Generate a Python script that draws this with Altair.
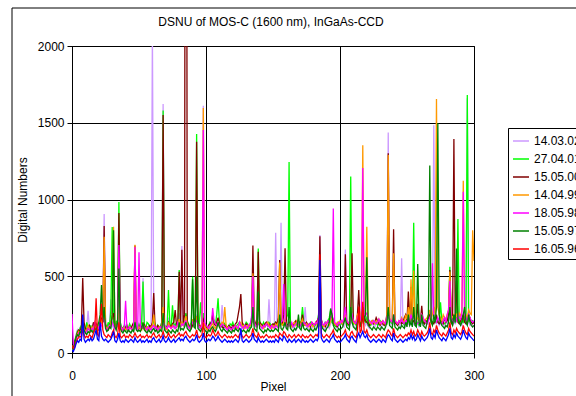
import altair as alt
import pandas as pd

FONT = "Liberation Sans"

series_names = ["14.03.02", "27.04.01", "15.05.00", "14.04.99", "18.05.98", "15.05.97", "16.05.96"]
series_colors = ["#CC99FF", "#00FF00", "#800000", "#FF9900", "#FF00FF", "#008000", "#FF0000"]
extra_color = "#0000FF"

s_140302 = [
    40, 30, 60, 120, 150, 130, 170, 140, 160, 190, 150, 170, 275, 160, 140, 180, 150, 200, 170, 150, 190, 160, 210, 250, 905,
    200, 150, 170, 190, 350, 180, 160, 150, 200, 170, 260, 170, 150, 140, 160, 180, 150, 140, 160, 170, 150, 140, 300, 160, 150,
    170, 160, 180, 488, 170, 150, 160, 140, 150, 170, 2100, 200, 150, 170, 160, 140, 180, 200, 1622, 190, 150, 160, 230, 180, 170,
    190, 160, 180, 170, 200, 260, 180, 697, 200, 170, 250, 180, 160, 150, 170, 180, 190, 220, 250, 170, 160, 180, 190, 1610, 200,
    150, 140, 160, 150, 180, 200, 170, 160, 190, 220, 180, 170, 312, 200, 180, 160, 150, 170, 160, 150, 170, 180, 160, 150, 170,
    200, 170, 160, 180, 170, 160, 190, 180, 170, 240, 200, 180, 170, 190, 260, 180, 170, 160, 180, 190, 200, 170, 350, 180, 160,
    170, 180, 784, 190, 170, 230, 849, 180, 200, 170, 160, 190, 210, 170, 160, 180, 170, 150, 160, 180, 170, 190, 200, 180, 300,
    170, 160, 150, 170, 160, 180, 170, 160, 180, 200, 769, 200, 170, 160, 150, 170, 180, 160, 190, 200, 230, 180, 170, 160, 180,
    190, 200, 180, 170, 675, 200, 180, 170, 190, 210, 180, 170, 160, 180, 200, 170, 190, 240, 200, 180, 200, 170, 160, 190, 200,
    180, 170, 200, 190, 180, 170, 160, 200, 190, 180, 200, 1437, 220, 190, 180, 200, 210, 190, 180, 200, 170, 617, 190, 180, 170,
    200, 190, 180, 200, 210, 190, 180, 200, 190, 170, 180, 200, 190, 180, 200, 210, 190, 200, 220, 250, 1483, 200, 190, 210, 180,
    200, 190, 180, 170, 200, 190, 210, 250, 190, 180, 200, 190, 210, 230, 200, 190, 180, 250, 200, 190, 1660, 200, 180, 190, 170,
    180,
]
s_270401 = [
    30, 50, 80, 110, 140, 120, 160, 180, 150, 170, 140, 200, 160, 150, 180, 140, 170, 190, 160, 150, 180, 220, 200, 260, 300,
    180, 160, 200, 170, 280, 820, 190, 170, 210, 180, 984, 200, 170, 160, 180, 170, 150, 160, 190, 170, 160, 150, 200, 180, 160,
    190, 170, 200, 465, 180, 160, 200, 190, 160, 170, 180, 210, 190, 160, 180, 150, 170, 200, 1580, 170, 160, 180, 410, 190, 170,
    310, 180, 190, 170, 200, 540, 190, 200, 180, 200, 260, 210, 190, 170, 200, 497, 220, 200, 1427, 210, 190, 330, 200, 260, 180,
    170, 160, 180, 200, 190, 230, 210, 180, 250, 357, 200, 180, 170, 200, 190, 180, 170, 160, 190, 180, 200, 170, 160, 180, 190,
    200, 180, 190, 170, 180, 200, 190, 160, 180, 200, 260, 190, 180, 200, 680, 210, 190, 180, 200, 170, 190, 180, 200, 190, 180,
    170, 190, 200, 180, 170, 200, 220, 190, 180, 200, 230, 250, 1244, 200, 180, 170, 190, 200, 180, 170, 190, 210, 300, 200, 180,
    190, 170, 180, 200, 190, 180, 170, 190, 200, 250, 180, 190, 170, 180, 200, 190, 210, 230, 280, 200, 190, 180, 170, 190, 200,
    180, 190, 200, 210, 250, 190, 180, 200, 1149, 230, 190, 200, 180, 190, 210, 200, 190, 250, 210, 200, 230, 200, 190, 180, 200,
    210, 190, 200, 180, 190, 210, 200, 190, 180, 200, 190, 260, 210, 200, 190, 250, 200, 190, 180, 200, 210, 190, 200, 180, 190,
    200, 210, 190, 230, 200, 849, 210, 190, 200, 180, 190, 210, 200, 190, 200, 210, 230, 250, 200, 190, 210, 200, 230, 210, 200,
    330, 210, 200, 190, 200, 210, 250, 562, 200, 190, 210, 200, 230, 873, 200, 190, 210, 200, 250, 230, 1680, 210, 220, 200, 210,
    200,
]
s_150500 = [
    20, 40, 70, 100, 130, 150, 140, 170, 488, 200, 160, 150, 170, 180, 150, 160, 200, 170, 190, 160, 150, 180, 230, 200, 827,
    190, 160, 150, 180, 200, 230, 260, 170, 160, 200, 912, 180, 160, 150, 170, 160, 180, 150, 170, 160, 180, 200, 700, 170, 150,
    160, 180, 170, 160, 190, 150, 170, 160, 180, 170, 200, 390, 170, 160, 180, 170, 160, 190, 1550, 180, 160, 170, 200, 180, 170,
    190, 200, 280, 180, 190, 530, 170, 672, 190, 250, 8000, 200, 180, 170, 160, 180, 200, 230, 1377, 200, 180, 170, 190, 220, 190,
    170, 160, 180, 190, 200, 250, 190, 180, 200, 230, 190, 180, 170, 160, 180, 170, 160, 180, 170, 160, 180, 170, 190, 200, 250,
    300, 384, 200, 180, 170, 190, 180, 170, 190, 200, 700, 220, 190, 180, 660, 200, 190, 180, 170, 190, 200, 180, 190, 170, 180,
    190, 180, 200, 190, 230, 606, 200, 190, 250, 682, 190, 180, 200, 170, 190, 180, 200, 210, 190, 180, 200, 190, 250, 180, 190,
    200, 180, 190, 170, 200, 190, 180, 200, 210, 230, 760, 220, 190, 180, 170, 190, 200, 210, 230, 250, 200, 190, 180, 170, 190,
    200, 210, 190, 230, 643, 200, 190, 180, 250, 650, 210, 200, 190, 250, 410, 200, 190, 230, 250, 210, 200, 190, 180, 200, 210,
    190, 200, 230, 210, 190, 180, 200, 190, 180, 200, 250, 1301, 220, 210, 200, 806, 200, 190, 180, 200, 210, 190, 200, 230, 250,
    210, 400, 200, 430, 200, 210, 190, 200, 320, 210, 200, 308, 200, 190, 210, 200, 230, 250, 210, 200, 190, 210, 250, 200, 190,
    210, 200, 190, 230, 200, 210, 250, 540, 200, 190, 1394, 210, 470, 200, 190, 210, 230, 250, 200, 190, 210, 250, 230, 200, 190,
    200,
]
s_140499 = [
    30, 20, 50, 90, 120, 140, 130, 150, 170, 160, 140, 150, 180, 160, 140, 170, 150, 180, 160, 150, 170, 190, 200, 230, 758,
    180, 150, 170, 160, 200, 240, 823, 170, 160, 180, 300, 170, 150, 160, 170, 150, 160, 150, 170, 160, 150, 170, 705, 160, 150,
    170, 160, 150, 200, 160, 150, 170, 160, 150, 170, 180, 250, 170, 160, 150, 170, 160, 180, 300, 170, 160, 150, 200, 170, 160,
    180, 170, 160, 170, 180, 220, 170, 200, 180, 200, 240, 190, 170, 160, 180, 220, 190, 200, 240, 180, 170, 160, 200, 1596, 180,
    160, 150, 170, 160, 180, 190, 170, 160, 180, 200, 170, 180, 200, 190, 300, 180, 160, 170, 160, 150, 160, 170, 180, 160, 170,
    190, 200, 170, 180, 160, 170, 180, 170, 180, 200, 519, 190, 180, 170, 200, 190, 180, 170, 160, 180, 190, 200, 180, 170, 160,
    180, 170, 190, 180, 200, 590, 190, 180, 200, 220, 180, 170, 190, 180, 170, 190, 200, 180, 210, 190, 180, 200, 220, 190, 180,
    190, 180, 170, 190, 180, 170, 190, 200, 180, 210, 200, 190, 180, 170, 190, 200, 190, 180, 210, 230, 200, 190, 180, 200, 190,
    210, 200, 190, 220, 250, 210, 200, 190, 230, 210, 200, 190, 210, 250, 230, 210, 280, 1353, 230, 250, 823, 210, 200, 190, 210,
    200, 190, 210, 200, 220, 190, 200, 210, 190, 200, 230, 1290, 230, 210, 200, 650, 220, 200, 190, 210, 200, 230, 210, 200, 250,
    220, 300, 210, 480, 230, 538, 200, 210, 230, 220, 200, 250, 230, 210, 220, 230, 250, 280, 230, 250, 300, 250, 1655, 300, 250,
    230, 210, 250, 230, 220, 250, 280, 530, 240, 230, 250, 220, 250, 230, 260, 240, 280, 1122, 260, 250, 230, 280, 260, 250, 800,
    600,
]
s_180598 = [
    254, 60, 40, 80, 110, 130, 120, 140, 160, 150, 130, 140, 160, 150, 140, 160, 150, 200, 180, 150, 170, 160, 180, 200, 230,
    170, 150, 160, 180, 170, 200, 180, 160, 170, 180, 703, 190, 160, 150, 170, 340, 160, 150, 170, 160, 150, 170, 690, 160, 150,
    657, 170, 160, 180, 170, 160, 150, 170, 160, 150, 170, 180, 160, 170, 150, 160, 170, 160, 200, 180, 170, 160, 180, 170, 160,
    170, 180, 160, 170, 200, 180, 170, 190, 180, 200, 210, 180, 170, 160, 190, 200, 180, 200, 210, 190, 170, 160, 180, 1453, 200,
    180, 170, 160, 180, 190, 293, 210, 190, 180, 200, 180, 170, 190, 180, 170, 160, 150, 170, 160, 150, 170, 160, 180, 170, 160,
    200, 180, 170, 160, 180, 170, 160, 180, 190, 230, 500, 200, 180, 170, 190, 180, 170, 160, 180, 170, 190, 180, 170, 160, 180,
    170, 160, 180, 170, 160, 190, 200, 210, 450, 200, 180, 170, 190, 180, 200, 170, 180, 190, 200, 180, 170, 190, 180, 200, 190,
    180, 170, 190, 180, 200, 190, 180, 200, 190, 230, 400, 210, 190, 180, 200, 190, 210, 200, 230, 250, 942, 200, 190, 180, 200,
    190, 210, 200, 230, 300, 210, 200, 190, 230, 250, 210, 200, 190, 230, 250, 210, 260, 1205, 230, 250, 260, 220, 210, 200, 190,
    210, 200, 190, 200, 220, 200, 190, 210, 200, 190, 230, 260, 220, 210, 200, 250, 210, 200, 190, 210, 200, 220, 200, 190, 210,
    200, 230, 210, 250, 220, 240, 210, 200, 190, 200, 210, 250, 230, 210, 200, 190, 210, 230, 250, 584, 230, 210, 200, 230, 210,
    200, 190, 210, 230, 200, 250, 280, 470, 230, 210, 200, 230, 210, 250, 230, 220, 260, 1050, 250, 230, 210, 250, 230, 210, 200,
    210,
]
s_150597 = [
    40, 20, 60, 100, 120, 110, 140, 130, 200, 150, 130, 120, 140, 130, 150, 140, 130, 160, 150, 180, 200, 250, 443, 200, 300,
    160, 140, 150, 170, 160, 250, 800, 170, 150, 200, 550, 160, 140, 130, 150, 140, 130, 150, 140, 130, 150, 140, 200, 150, 140,
    150, 140, 160, 200, 150, 140, 130, 150, 140, 130, 150, 160, 140, 150, 130, 140, 150, 140, 260, 150, 140, 130, 150, 140, 130,
    150, 140, 130, 150, 140, 200, 150, 160, 150, 170, 200, 160, 150, 140, 160, 480, 170, 160, 500, 160, 150, 140, 160, 170, 150,
    140, 130, 150, 140, 160, 170, 150, 140, 160, 200, 170, 150, 140, 160, 150, 140, 130, 150, 140, 130, 150, 140, 160, 150, 140,
    160, 150, 140, 150, 140, 130, 150, 140, 160, 170, 300, 160, 150, 140, 400, 160, 150, 140, 130, 150, 140, 160, 150, 140, 150,
    140, 150, 160, 150, 140, 250, 160, 150, 170, 200, 160, 150, 300, 160, 150, 140, 160, 150, 170, 250, 160, 150, 200, 160, 150,
    160, 150, 140, 160, 150, 140, 160, 150, 170, 200, 350, 180, 160, 150, 140, 160, 170, 200, 290, 250, 180, 160, 150, 140, 160,
    150, 160, 170, 200, 230, 170, 160, 150, 300, 200, 170, 160, 150, 200, 230, 170, 200, 300, 210, 250, 623, 180, 170, 160, 150,
    170, 160, 150, 170, 160, 150, 170, 160, 150, 170, 200, 300, 180, 170, 160, 250, 170, 160, 150, 170, 160, 180, 170, 160, 200,
    170, 250, 180, 200, 170, 300, 180, 170, 580, 200, 170, 250, 180, 170, 160, 200, 250, 1222, 200, 180, 250, 200, 300, 1496, 250,
    200, 180, 170, 160, 180, 170, 200, 300, 200, 180, 250, 200, 680, 220, 200, 180, 200, 250, 300, 200, 180, 250, 200, 180, 170,
    180,
]
s_160596 = [
    50, 30, 40, 70, 90, 100, 110, 100, 150, 120, 100, 110, 100, 120, 110, 100, 130, 150, 357, 120, 110, 200, 320, 150, 120,
    110, 100, 120, 110, 100, 130, 150, 110, 100, 120, 200, 110, 100, 110, 120, 100, 110, 100, 120, 110, 100, 110, 130, 110, 100,
    110, 120, 100, 110, 100, 110, 120, 100, 110, 100, 120, 130, 110, 100, 110, 120, 100, 110, 140, 110, 100, 110, 130, 110, 100,
    110, 120, 100, 110, 120, 130, 110, 120, 110, 130, 140, 120, 110, 100, 110, 120, 110, 120, 150, 110, 100, 110, 120, 200, 110,
    100, 110, 120, 110, 120, 150, 130, 110, 120, 140, 120, 110, 100, 110, 120, 110, 100, 110, 100, 110, 100, 110, 120, 110, 100,
    120, 130, 110, 100, 110, 120, 110, 100, 110, 120, 160, 120, 110, 100, 130, 110, 100, 110, 100, 110, 120, 110, 100, 110, 100,
    110, 100, 120, 110, 100, 130, 120, 110, 140, 130, 110, 100, 120, 110, 100, 110, 120, 100, 110, 120, 110, 100, 120, 110, 100,
    110, 100, 110, 120, 110, 100, 110, 120, 110, 130, 643, 130, 110, 100, 110, 120, 110, 100, 120, 130, 150, 120, 110, 100, 110,
    100, 110, 120, 130, 150, 120, 110, 100, 130, 140, 120, 110, 100, 140, 302, 130, 150, 334, 140, 130, 150, 120, 110, 100, 110,
    120, 110, 100, 110, 120, 110, 100, 120, 110, 100, 130, 150, 140, 120, 110, 160, 120, 110, 100, 110, 120, 110, 100, 110, 120,
    110, 130, 120, 150, 120, 140, 110, 120, 150, 130, 110, 140, 120, 110, 120, 130, 150, 200, 130, 120, 150, 130, 180, 150, 130,
    120, 110, 130, 120, 110, 130, 150, 200, 130, 120, 150, 130, 160, 140, 130, 120, 140, 180, 150, 130, 120, 160, 140, 130, 120,
    110,
]
s_blue = [
    20, 10, 30, 60, 80, 70, 90, 80, 250, 90, 70, 80, 90, 80, 100, 80, 90, 120, 150, 90, 80, 200, 110, 90, 80,
    90, 80, 70, 80, 90, 110, 140, 80, 70, 90, 130, 80, 70, 80, 70, 90, 80, 70, 80, 90, 80, 70, 100, 80, 70,
    80, 90, 70, 80, 70, 80, 90, 70, 80, 70, 90, 100, 80, 70, 80, 90, 70, 80, 110, 80, 70, 80, 100, 80, 70,
    80, 90, 70, 80, 90, 100, 80, 90, 80, 100, 110, 90, 80, 70, 80, 90, 80, 90, 120, 80, 70, 80, 90, 130, 80,
    70, 80, 90, 80, 90, 110, 100, 80, 90, 110, 90, 80, 70, 80, 90, 80, 70, 80, 70, 80, 70, 80, 90, 80, 70,
    90, 160, 80, 70, 80, 90, 80, 70, 80, 90, 130, 90, 80, 70, 100, 80, 70, 80, 70, 80, 90, 80, 70, 80, 70,
    80, 70, 90, 80, 70, 100, 90, 80, 110, 100, 80, 70, 90, 80, 70, 80, 90, 70, 80, 90, 80, 70, 90, 80, 70,
    80, 70, 80, 90, 80, 70, 80, 90, 80, 100, 606, 100, 80, 70, 80, 90, 80, 70, 90, 100, 120, 90, 80, 70, 80,
    70, 80, 90, 100, 120, 90, 80, 70, 100, 110, 90, 80, 70, 110, 130, 100, 120, 140, 110, 100, 120, 90, 80, 70, 80,
    90, 80, 70, 80, 90, 80, 70, 90, 80, 70, 100, 120, 110, 90, 80, 130, 90, 80, 70, 80, 90, 80, 70, 80, 90,
    80, 100, 90, 120, 90, 110, 80, 90, 120, 100, 80, 110, 90, 80, 90, 100, 120, 160, 100, 90, 120, 100, 150, 120, 100,
    90, 80, 100, 90, 80, 100, 120, 160, 100, 90, 120, 100, 130, 110, 100, 90, 110, 150, 120, 100, 90, 130, 110, 100, 90,
    80,
]

x_ticks = [0, 100, 200, 300]
y_ticks = [0, 500, 1000, 1500, 2000]
chart_title = "DSNU of MOS-C (1600 nm), InGaAs-CCD"

all_series = [s_140302, s_270401, s_150500, s_140499, s_180598, s_150597, s_160596]
rows = []
for k, (name, vals) in enumerate(zip(series_names, all_series)):
    for i, v in enumerate(vals):
        rows.append({"Pixel": i, "DN": v, "series": name, "k": k})
df = pd.DataFrame(rows)
df_blue = pd.DataFrame({"Pixel": list(range(len(s_blue))), "DN": s_blue})

x_enc = alt.X("Pixel:Q", scale=alt.Scale(domain=[0, 300], nice=False, zero=False),
              axis=alt.Axis(values=x_ticks, title="Pixel", format="d", tickSize=5,
                            labelPadding=12, titlePadding=0, labelFlush=False))
y_enc = alt.Y("DN:Q", scale=alt.Scale(domain=[0, 2000], nice=False),
              axis=alt.Axis(values=y_ticks, title="Digital Numbers", format="d", tickSize=5,
                            labelPadding=3, titlePadding=8, labelFlush=False))

border = alt.Chart(pd.DataFrame({"a": [0]})).mark_rect(
    fill="white", fillOpacity=0, stroke="black", strokeWidth=1, clip=False
).encode(x=alt.value(-60), x2=alt.value(620), y=alt.value(-38), y2=alt.value(420))

title_mark = alt.Chart(pd.DataFrame({"t": [chart_title]})).mark_text(
    font=FONT, fontSize=12, color="black", align="center", baseline="middle", clip=False
).encode(text="t:N", x=alt.value(199), y=alt.value(-24))

lines = alt.Chart(df).mark_line(strokeWidth=1.3, clip=True, interpolate="linear").encode(
    x=x_enc,
    y=y_enc,
    color=alt.Color("series:N", scale=alt.Scale(domain=series_names, range=series_colors),
                    legend=alt.Legend(title=None, orient="none", legendX=436, legendY=82,
                                      strokeColor="black", fillColor="white", padding=4,
                                      symbolType="stroke", symbolSize=256, symbolStrokeWidth=1.5,
                                      labelFontSize=12, labelFont=FONT, labelColor="black",
                                      rowPadding=3, labelOffset=4, labelLimit=200)),
    detail="k:O",
    order=alt.Order("Pixel:Q"),
)

blue = alt.Chart(df_blue).mark_line(strokeWidth=1.3, clip=True, color=extra_color).encode(
    x="Pixel:Q", y="DN:Q", order=alt.Order("Pixel:Q")
)

chart = alt.layer(border, lines, blue, title_mark).properties(
    width=402, height=307,
    background="white",
    autosize=alt.AutoSizeParams(type="none"),
    padding={"left": 72, "top": 46, "right": 102, "bottom": 43},
).configure_axis(
    grid=True, gridColor="black", gridWidth=1, gridOpacity=1,
    domainColor="black", tickColor="black", labelColor="black", titleColor="black",
    labelFont=FONT, titleFont=FONT, labelFontSize=12, titleFontSize=12, titleFontWeight="normal",
).configure_view(stroke="black", strokeWidth=1)

chart.save("out.html", embed_options={"renderer": "svg", "actions": False})
